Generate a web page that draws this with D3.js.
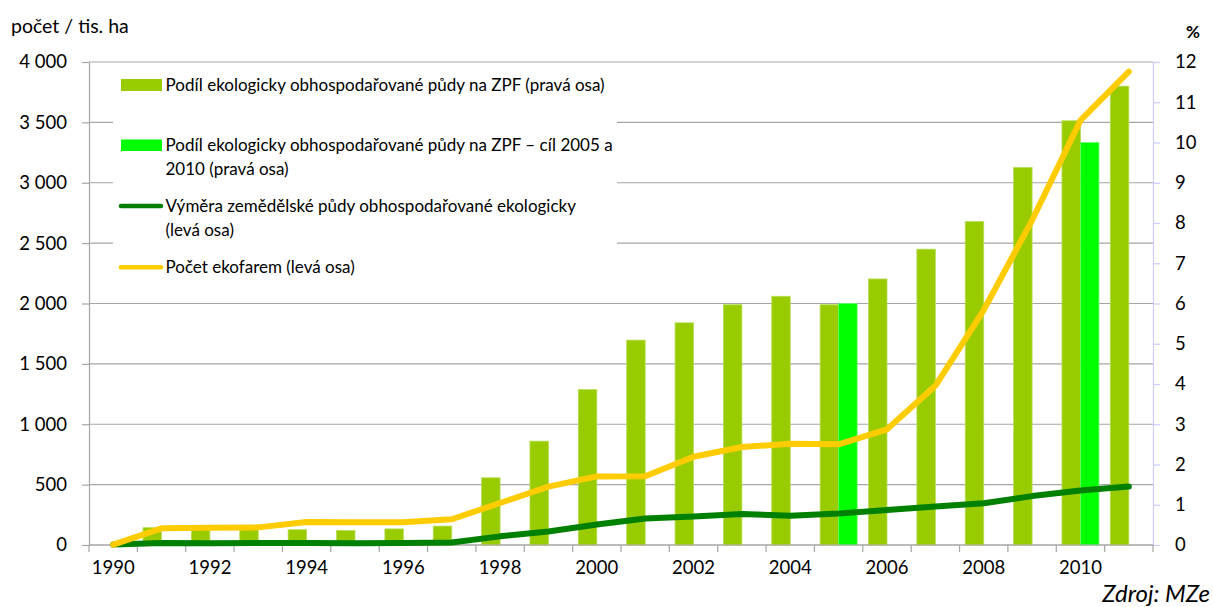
<!DOCTYPE html>
<html><head><meta charset="utf-8">
<script src="https://cdn.jsdelivr.net/npm/d3@7"></script>
<style>
html,body{margin:0;padding:0;background:#fff;}
svg{display:block;font-family:Lato,"Noto Sans",sans-serif;}
</style></head><body>
<svg id="chart" width="1213" height="607"></svg>
<script>
// ---------- data ----------
const years = ["1990","1991","1992","1993","1994","1995","1996","1997","1998","1999","2000",
               "2001","2002","2003","2004","2005","2006","2007","2008","2009","2010","2011"];
// Podíl ekologicky obhospodařované půdy na ZPF (%), right axis
const shareEco = [null,0.43,0.41,0.41,0.38,0.36,0.40,0.47,1.67,2.58,3.86,
                  5.09,5.52,5.97,6.18,5.97,6.61,7.35,8.04,9.38,10.54,11.40];
// cíl 2005 a 2010 (%), right axis
const shareTarget = [null,null,null,null,null,null,null,null,null,null,null,
                     null,null,null,null,6.0,null,null,null,null,10.0,null];
// Výměra zemědělské půdy obhospodařované ekologicky (tis. ha), left axis
const areaEco = [3.5,17.5,15.4,15.7,15.8,14.8,17.0,20.2,71.6,112,170,
                 220,236,257,243,260,290,318,345,405,452,485];
// Počet ekofarem, left axis
const farmsEco = [3,138,142,146,190,188,188,213,348,483,568,
                  570,731,812,838,834,958,1318,1946,2689,3517,3920];
const leftTicks = [0,500,1000,1500,2000,2500,3000,3500,4000];
const rightTicks = [0,1,2,3,4,5,6,7,8,9,10,11,12];
const xLabelYears = ["1990","1992","1994","1996","1998","2000","2002","2004","2006","2008","2010"];
const legendLabels = [
  ["Podíl ekologicky obhospodařované půdy na ZPF (pravá osa)"],
  ["Podíl ekologicky obhospodařované půdy na ZPF – cíl 2005 a","2010 (pravá osa)"],
  ["Výměra zemědělské půdy obhospodařované ekologicky","(levá osa)"],
  ["Počet ekofarem (levá osa)"]
];
const colors = {bar:"#99cc00", target:"#00ff00", area:"#008000", farms:"#ffcc00"};

// ---------- layout ----------
const svg = d3.select("#chart");
const L = 89, R = 1153, T = 62, B = 545;

const x = d3.scaleBand().domain(years).range([L, R]).paddingInner(0).paddingOuter(0);
const xs = d3.scaleBand().domain(["eco","target"]).range([0, x.bandwidth()]).paddingInner(0).paddingOuter(0.307);
const yL = d3.scaleLinear().domain([0, 4000]).range([B, T]);
const yR = d3.scaleLinear().domain([0, 12]).range([B, T]);

// gridlines
svg.append("g").selectAll("line").data(leftTicks).join("line")
  .attr("x1", L).attr("x2", R).attr("y1", d => yL(d)).attr("y2", d => yL(d))
  .attr("stroke", "#a6a6a6").attr("stroke-width", 1.2);

// bars
const bars = svg.append("g");
bars.selectAll("rect.eco").data(years.map((y,i)=>({y, v:shareEco[i]})).filter(d=>d.v!=null))
  .join("rect").attr("class","eco")
  .attr("x", d => x(d.y) + xs("eco")).attr("width", xs.bandwidth())
  .attr("y", d => yR(d.v)).attr("height", d => yR(0) - yR(d.v))
  .attr("fill", colors.bar).attr("stroke","#b9dd55").attr("stroke-width",0.8);
bars.selectAll("rect.target").data(years.map((y,i)=>({y, v:shareTarget[i]})).filter(d=>d.v!=null))
  .join("rect").attr("class","target")
  .attr("x", d => x(d.y) + xs("target")).attr("width", xs.bandwidth())
  .attr("y", d => yR(d.v)).attr("height", d => yR(0) - yR(d.v))
  .attr("fill", colors.target).attr("stroke","#66ff66").attr("stroke-width",0.8);

// left axis
const fmt = d => d3.format(",")(d).replace(/,/g, " ");
const gL = svg.append("g").attr("transform", `translate(${L},0)`)
  .call(d3.axisLeft(yL).tickValues(leftTicks).tickSize(7).tickSizeOuter(0).tickPadding(15).tickFormat(fmt));
gL.select(".domain").attr("stroke", "#a6a6a6").attr("stroke-width", 1.2);
gL.selectAll(".tick line").attr("stroke", "#a6a6a6").attr("stroke-width", 1.2);
gL.selectAll(".tick text").attr("font-size", 18.5).attr("fill", "#000").attr("font-family","Lato");

// right axis
const gR = svg.append("g").attr("transform", `translate(${R},0)`)
  .call(d3.axisRight(yR).tickValues(rightTicks).tickSize(7).tickSizeOuter(0).tickPadding(15));
gR.select(".domain").attr("stroke", "#ccccff").attr("stroke-width", 1.2);
gR.selectAll(".tick line").attr("stroke", "#ccccff").attr("stroke-width", 1.2);
gR.selectAll(".tick text").attr("font-size", 18.5).attr("fill", "#000").attr("font-family","Lato");

// x axis
const gX = svg.append("g");
gX.append("line").attr("x1", L).attr("x2", R).attr("y1", B).attr("y2", B)
  .attr("stroke", "#a6a6a6").attr("stroke-width", 1.2);
const boundaries = years.map(y => x(y)).concat([R]);
gX.selectAll("line.tk").data(boundaries).join("line").attr("class","tk")
  .attr("x1", d => d).attr("x2", d => d).attr("y1", B).attr("y2", B + 7)
  .attr("stroke", "#a6a6a6").attr("stroke-width", 1.2);
gX.selectAll("text").data(xLabelYears).join("text")
  .attr("x", d => x(d) + x.bandwidth()/2).attr("y", 574)
  .attr("text-anchor", "middle").attr("font-size", 18.5).text(d => d);

// lines
const lineGen = arr => d3.line().x((d,i) => x(years[i]) + x.bandwidth()/2).y(d => yL(d))(arr);
svg.append("path").attr("d", lineGen(areaEco)).attr("fill","none")
  .attr("stroke", colors.area).attr("stroke-width", 6).attr("stroke-linecap","round").attr("stroke-linejoin","round");
svg.append("path").attr("d", lineGen(farmsEco)).attr("fill","none")
  .attr("stroke", colors.farms).attr("stroke-width", 6).attr("stroke-linecap","round").attr("stroke-linejoin","round");

// legend
const lg = svg.append("g");
lg.append("rect").attr("x", 113).attr("y", 64).attr("width", 504).attr("height", 230).attr("fill", "#fff");
const lgFont = 17;
const baseY = [90.7, 150.7, 211.7, 273.3];
const lineH = 24.7;
lg.append("rect").attr("x", 121).attr("y", 79).attr("width", 41).attr("height", 12).attr("fill", colors.bar);
lg.append("rect").attr("x", 121).attr("y", 139.5).attr("width", 41).attr("height", 11.5).attr("fill", colors.target);
lg.append("line").attr("x1", 121).attr("x2", 161).attr("y1", 206).attr("y2", 206)
  .attr("stroke", colors.area).attr("stroke-width", 4.5).attr("stroke-linecap","round");
lg.append("line").attr("x1", 121).attr("x2", 161).attr("y1", 267.3).attr("y2", 267.3)
  .attr("stroke", colors.farms).attr("stroke-width", 4.5).attr("stroke-linecap","round");
legendLabels.forEach((lines, i) => {
  lines.forEach((t, j) => {
    lg.append("text").attr("x", 165.5).attr("y", baseY[i] + j*lineH)
      .attr("font-size", lgFont).attr("fill","#000").text(t);
  });
});

// axis titles & source
svg.append("text").attr("x", 11).attr("y", 32.5).attr("font-size", 19.5).text("počet / tis. ha");
svg.append("text").attr("x", 1186).attr("y", 38).attr("font-size", 17).attr("font-weight","bold").text("%");
svg.append("text").attr("x", 1210).attr("y", 602).attr("text-anchor","end")
  .attr("font-size", 24).attr("font-style","italic").text("Zdroj: MZe");
</script>
</body></html>
